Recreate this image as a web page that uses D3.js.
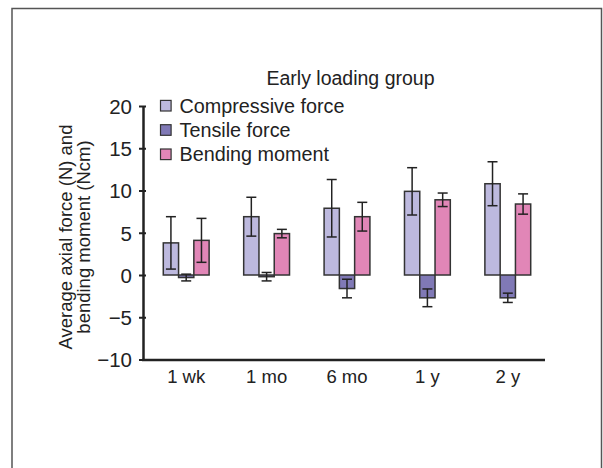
<!DOCTYPE html>
<html>
<head>
<meta charset="utf-8">
<script src="https://cdn.jsdelivr.net/npm/d3@7"></script>
<style>
  body { margin: 0; background: #fff; }
  svg text { font-family: "Liberation Sans", Arial, sans-serif; fill: #222; }
</style>
</head>
<body>
<svg id="chart" width="603" height="468"></svg>
<script>
// values
var categories = ['1 wk', '1 mo', '6 mo', '1 y', '2 y'];
var seriesNames = ['Compressive force', 'Tensile force', 'Bending moment'];
var seriesColors = ['#bdb9de', '#8079b6', '#e186b7'];
var compressive = [3.8, 6.9, 7.9, 9.9, 10.8];
var compressiveErr = [3.1, 2.3, 3.4, 2.8, 2.6];
var tensile = [-0.3, -0.2, -1.6, -2.7, -2.7];
var tensileErr = [0.4, 0.5, 1.1, 1.05, 0.55];
var bending = [4.1, 4.9, 6.9, 8.9, 8.4];
var bendingErr = [2.6, 0.5, 1.7, 0.8, 1.2];
var yTicks = [-10, -5, 0, 5, 10, 15, 20];

var means = [compressive, tensile, bending];
var errs = [compressiveErr, tensileErr, bendingErr];

var svg = d3.select('#chart');

// frame around the figure (open at the bottom)
svg.append('path')
  .attr('d', 'M12,470 L12,8.5 L601.5,8.5 L601.5,470')
  .attr('fill', 'none')
  .attr('stroke', '#555')
  .attr('stroke-width', 1.5);

var y = d3.scaleLinear().domain([-10, 20]).range([359.5, 106]);
var x = d3.scaleBand().domain(categories).range([146, 548]).paddingInner(0.43).paddingOuter(0.215);
var xs = d3.scaleBand().domain(d3.range(3)).range([0, x.bandwidth()]);

var plot = svg.append('g');

// bars
means.forEach(function(vals, s) {
  plot.selectAll('rect.s' + s)
    .data(vals)
    .enter().append('rect')
    .attr('class', 's' + s)
    .attr('x', function(d, i) { return x(categories[i]) + xs(s); })
    .attr('width', xs.bandwidth())
    .attr('y', function(d) { return y(Math.max(0, d)); })
    .attr('height', function(d) { return Math.abs(y(d) - y(0)); })
    .attr('fill', seriesColors[s])
    .attr('stroke', '#333')
    .attr('stroke-width', 1.5);
});

// error bars
means.forEach(function(vals, s) {
  vals.forEach(function(d, i) {
    var cx = x(categories[i]) + xs(s) + xs.bandwidth() / 2;
    var lo = y(d - errs[s][i]);
    var hi = y(d + errs[s][i]);
    var g = plot.append('g').attr('stroke', '#222').attr('stroke-width', 1.5);
    g.append('line').attr('x1', cx).attr('x2', cx).attr('y1', lo).attr('y2', hi);
    g.append('line').attr('x1', cx - 5).attr('x2', cx + 5).attr('y1', lo).attr('y2', lo);
    g.append('line').attr('x1', cx - 5).attr('x2', cx + 5).attr('y1', hi).attr('y2', hi);
  });
});

// y axis
var yAxis = svg.append('g')
  .attr('transform', 'translate(143,0)')
  .call(d3.axisLeft(y).tickValues(yTicks).tickSize(4).tickSizeOuter(0).tickFormat(function(d) {
    return d < 0 ? '\u2212' + Math.abs(d) : d;
  }));
yAxis.select('.domain').attr('stroke', '#222').attr('stroke-width', 2.5);
yAxis.selectAll('.tick line').attr('stroke', '#222').attr('stroke-width', 2).attr('x2', 3).attr('x1', -4);
yAxis.selectAll('.tick text')
  .attr('x', -11).attr('dy', '0.36em')
  .attr('font-size', 20.5)
  .attr('font-family', '"Liberation Sans", Arial, sans-serif').attr('fill', '#222');

// x axis
var xAxis = svg.append('g')
  .attr('transform', 'translate(0,' + y(-10) + ')')
  .call(d3.axisBottom(x).tickSize(0).tickSizeOuter(0));
xAxis.select('.domain').attr('d', 'M142,0.5H545').attr('stroke', '#222').attr('stroke-width', 2.5);
xAxis.selectAll('.tick text')
  .attr('y', 23).attr('dy', 0)
  .attr('font-size', 18.5)
  .attr('font-family', '"Liberation Sans", Arial, sans-serif').attr('fill', '#222');

// y label
var ylab = svg.append('text')
  .attr('transform', 'translate(71.5,237) rotate(-90)')
  .attr('text-anchor', 'middle')
  .attr('font-size', 18.5);
ylab.append('tspan').attr('x', 0).attr('dy', 0).text('Average axial force (N) and');
ylab.append('tspan').attr('x', 0).attr('dy', 18.5).text('bending moment (Ncm)');

// legend
svg.append('text')
  .attr('x', 350.5).attr('y', 85)
  .attr('text-anchor', 'middle')
  .attr('font-size', 19.5)
  .text('Early loading group');

var legend = svg.selectAll('g.legend')
  .data(seriesNames)
  .enter().append('g')
  .attr('class', 'legend')
  .attr('transform', function(d, i) { return 'translate(160.5,' + (105.7 + i * 24.3) + ')'; });
legend.append('rect')
  .attr('x', 0).attr('y', -5.3).attr('width', 10.6).attr('height', 10.6)
  .attr('fill', function(d, i) { return seriesColors[i]; })
  .attr('stroke', '#333').attr('stroke-width', 1.2);
legend.append('text')
  .attr('x', 19).attr('y', 7)
  .attr('font-size', 19.8)
  .text(function(d) { return d; });
</script>
</body>
</html>
